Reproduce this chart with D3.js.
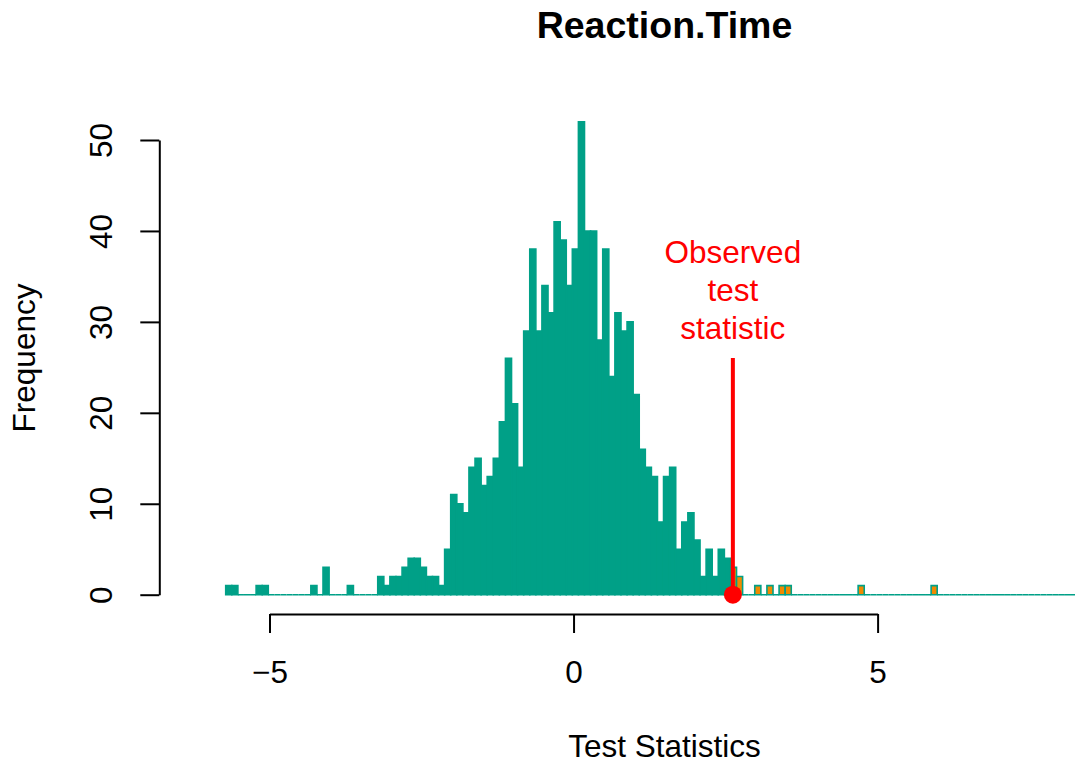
<!DOCTYPE html>
<html>
<head>
<meta charset="utf-8">
<script src="https://cdn.jsdelivr.net/npm/d3@7"></script>
<style>
  html, body { margin: 0; padding: 0; background: #ffffff; }
  svg { display: block; }
  text { font-family: "Liberation Sans", Arial, Helvetica, sans-serif; }
</style>
</head>
<body>
<svg id="chart" width="1075" height="763"></svg>
<script>
// ---- data ----
const chartTitle = "Reaction.Time";
const xLabel = "Test Statistics";
const yLabel = "Frequency";
const annotationLines = ["Observed", "test", "statistic"];

const firstBreak = -5.72;   // left edge of the first bin
const binWidth = 0.1;
const observedStat = 2.62;

// counts per bin, starting at firstBreak, each binWidth wide
const counts = [
  1, 1, 0, 0, 0, 1, 1, 0, 0, 0,
  0, 0, 0, 0, 1, 0, 3, 0, 0, 0,
  1, 0, 0, 0, 0, 2, 1, 2, 2, 3,
  4, 4, 3, 2, 2, 1, 5, 11, 10, 9,
  14, 15, 12, 13, 15, 19, 26, 21, 14, 29,
  38, 29, 34, 31, 41, 39, 34, 38, 52, 40,
  40, 28, 38, 24, 31, 29, 30, 22, 16, 14,
  13, 8, 13, 14, 5, 8, 9, 6, 2, 5,
  2, 5, 4, 3, 2, 0, 0, 1, 0, 1,
  0, 1, 1, 0, 0, 0, 0, 0, 0, 0,
  0, 0, 0, 0, 1, 0, 0, 0, 0, 0,
  0, 0, 0, 0, 0, 0, 1, 0, 0, 0,
  0, 0, 0, 0, 0, 0, 0, 0, 0, 0,
  0, 0, 0, 0, 0, 0, 0, 0, 0, 0
];

const xTicks = [-5, 0, 5];
const yTicks = [0, 10, 20, 30, 40, 50];

// ---- styles ----
const teal = "#00A087";
const orange = "#F08A00";
const red = "#FF0000";
const baseFont = 31.5;

const svg = d3.select("#chart");

const x = d3.scaleLinear().domain([-5, 5]).range([269.5, 877.6]);
const y = d3.scaleLinear().domain([0, 50]).range([594.7, 140]);

const bins = counts.map((c, i) => {
  const x0 = firstBreak + i * binWidth;
  return { x0: x0, x1: x0 + binWidth, count: c };
});

// bars (path so zero-height bins still draw a baseline)
svg.append("g")
  .selectAll("path")
  .data(bins)
  .join("path")
  .attr("d", d => {
    const a = x(d.x0), b = x(d.x1), y0 = y(0), y1 = y(d.count);
    return `M${a},${y0}V${y1}H${b}V${y0}Z`;
  })
  .attr("fill", d => (d.x1 > observedStat && d.count > 0) ? orange : teal)
  .attr("stroke", teal)
  .attr("stroke-width", 1.6)
  .attr("stroke-linejoin", "miter");

// x axis
const xAxis = svg.append("g")
  .attr("transform", `translate(0,614)`)
  .call(d3.axisBottom(x).tickValues(xTicks).tickSize(19).tickSizeOuter(0));
xAxis.select(".domain").attr("stroke", "#000").attr("stroke-width", 2);
xAxis.selectAll(".tick line").attr("stroke", "#000").attr("stroke-width", 2);
xAxis.selectAll(".tick text")
  .attr("y", 69).attr("dy", 0)
  .attr("fill", "#000")
  .style("font-size", baseFont + "px")
  .style("font-family", '"Liberation Sans", Arial, sans-serif');

// y axis
const yAxis = svg.append("g")
  .attr("transform", `translate(159.3,0)`)
  .call(d3.axisLeft(y).tickValues(yTicks).tickSize(19).tickSizeOuter(0));
yAxis.select(".domain").attr("stroke", "#000").attr("stroke-width", 2);
yAxis.selectAll(".tick line").attr("stroke", "#000").attr("stroke-width", 2);
yAxis.selectAll(".tick text")
  .attr("x", null).attr("dy", null)
  .attr("text-anchor", "middle")
  .attr("transform", "translate(-47,0) rotate(-90)")
  .attr("fill", "#000")
  .style("font-size", baseFont + "px")
  .style("font-family", '"Liberation Sans", Arial, sans-serif');

// observed statistic marker
const xo = x(observedStat);
svg.append("line")
  .attr("x1", xo).attr("x2", xo)
  .attr("y1", 358).attr("y2", y(0))
  .attr("stroke", red).attr("stroke-width", 4);
svg.append("circle")
  .attr("cx", xo).attr("cy", y(0)).attr("r", 9)
  .attr("fill", red);

svg.append("g")
  .selectAll("text")
  .data(annotationLines)
  .join("text")
  .attr("x", xo)
  .attr("y", (d, i) => 262.7 + i * 38.3)
  .attr("text-anchor", "middle")
  .attr("fill", red)
  .style("font-size", baseFont + "px")
  .text(d => d);

// title and axis labels
svg.append("text")
  .attr("x", 664.5).attr("y", 38)
  .attr("text-anchor", "middle")
  .style("font-size", "37.5px").style("font-weight", "bold")
  .text(chartTitle);

svg.append("text")
  .attr("x", 664.5).attr("y", 756.5)
  .attr("text-anchor", "middle")
  .style("font-size", baseFont + "px")
  .text(xLabel);

svg.append("text")
  .attr("transform", "translate(35,358) rotate(-90)")
  .attr("text-anchor", "middle")
  .style("font-size", baseFont + "px")
  .text(yLabel);
</script>
</body>
</html>
